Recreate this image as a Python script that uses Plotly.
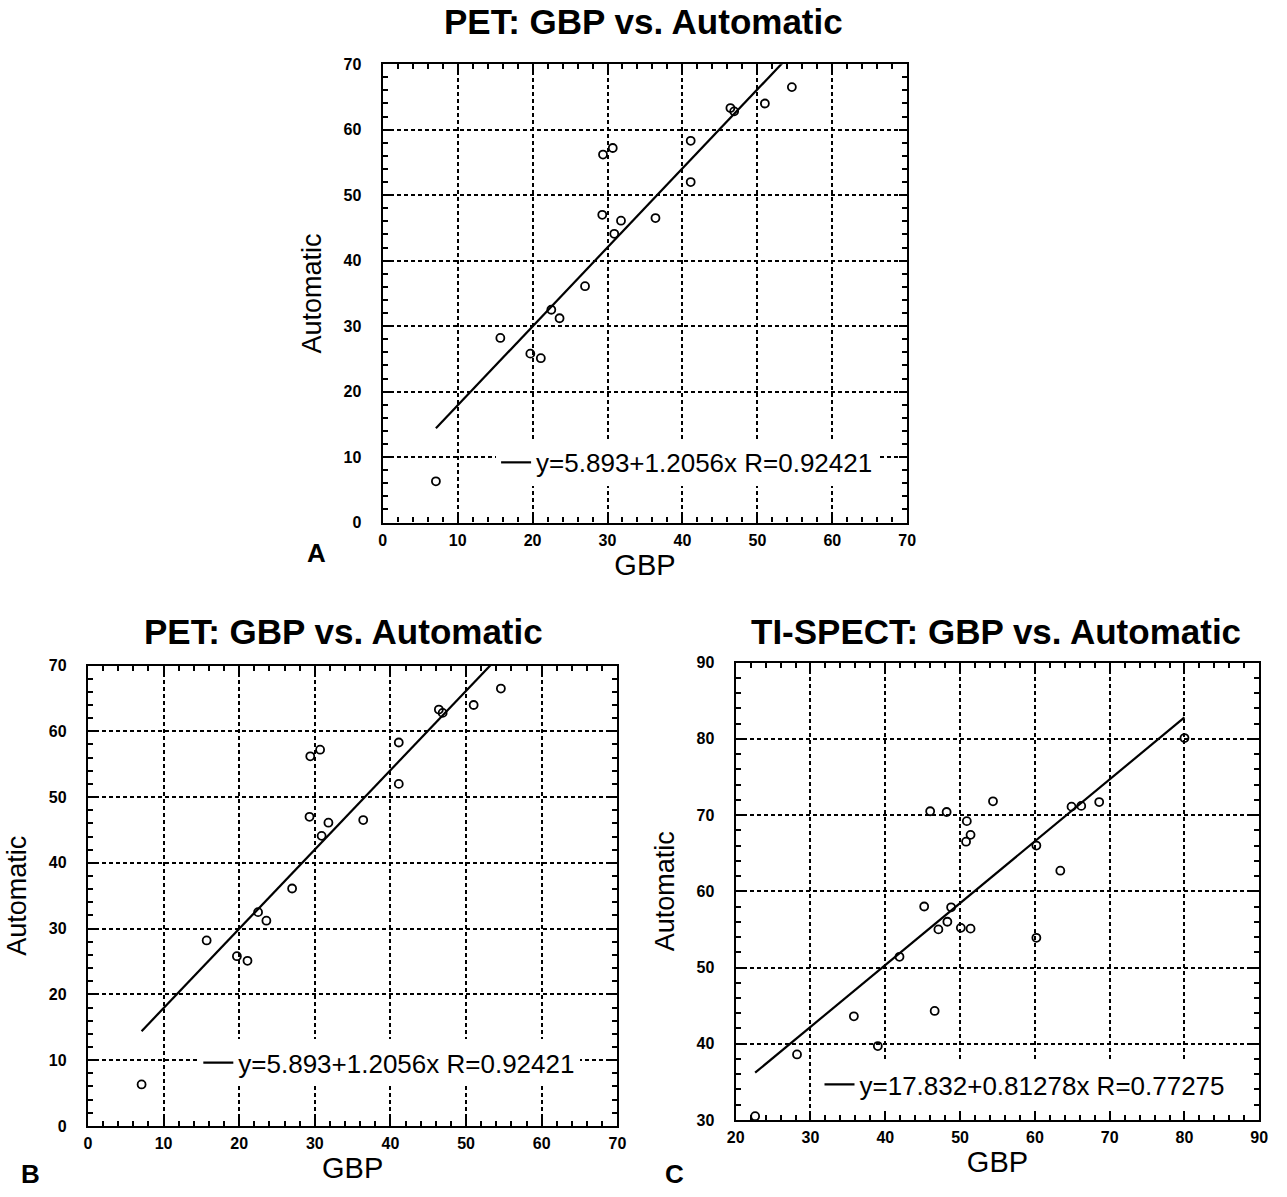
import plotly.graph_objects as go

W, H = 1287, 1197

# ---------------- data ----------------
pet_gbp = [7.1, 15.7, 19.7, 21.1, 22.5, 23.6, 27.0, 29.3, 29.4, 30.7,
           30.9, 31.8, 36.4, 41.1, 41.1, 46.4, 46.9, 51.0, 54.6]
pet_auto = [6.3, 28.2, 25.8, 25.1, 32.5, 31.2, 36.1, 47.0, 56.2, 57.2,
            44.1, 46.1, 46.5, 58.3, 52.0, 63.3, 62.8, 64.0, 66.5]
pet_fit_x = [7.1, 54.6]
pet_fit_y = [14.4, 71.7]
pet_label = "y=5.893+1.2056x R=0.92421"

spect_gbp = [22.6, 28.2, 35.8, 39.0, 41.9, 46.6, 45.2, 47.1, 48.3, 48.8,
             50.1, 51.4, 46.0, 48.2, 50.9, 50.8, 51.4, 54.4, 60.2, 60.2,
             63.4, 64.9, 66.2, 68.6, 80.0]
spect_auto = [30.5, 38.6, 43.6, 39.7, 51.4, 44.3, 58.0, 55.0, 56.0, 57.9,
              55.2, 55.1, 70.5, 70.4, 69.2, 66.5, 67.4, 71.8, 66.0, 53.9,
              62.7, 71.1, 71.2, 71.7, 80.1]
spect_fit_x = [22.6, 80.0]
spect_fit_y = [36.2, 82.8]
spect_label = "y=17.832+0.81278x R=0.77275"

titles = ["PET: GBP vs. Automatic", "PET: GBP vs. Automatic", "TI-SPECT: GBP vs. Automatic"]
panel_letters = ["A", "B", "C"]
x_title = "GBP"
y_title = "Automatic"

# ---------------- layout helpers ----------------
def px_dom_x(a, b):
    return [a / W, b / W]

def px_dom_y(top, bottom):
    return [1 - bottom / H, 1 - top / H]

FONT = "Liberation Sans, Arial, Helvetica, sans-serif"

def axis_common(rng, dtick, domain, anchor, title, standoff, tsize, lstand):
    return dict(
        range=rng, dtick=dtick, tick0=0, domain=domain, anchor=anchor,
        showline=True, linecolor="black", linewidth=2.2, mirror="allticks",
        ticks="inside", ticklen=8, tickwidth=2, tickcolor="black",
        showgrid=True, gridcolor="black", gridwidth=1.8, griddash="4px,3px",
        zeroline=False,
        minor=dict(dtick=2, ticks="inside", ticklen=5, tickwidth=1.5,
                   tickcolor="black", showgrid=False),
        tickfont=dict(family=FONT, size=16, color="black", weight="bold"),
        ticklabelstandoff=lstand,
        title=dict(text=title, font=dict(family=FONT, size=tsize, color="black"),
                   standoff=standoff),
        fixedrange=True,
    )

fig = go.Figure()

marker = dict(symbol="circle-open", size=8, color="black", line=dict(width=1.8, color="black"))
fitline = dict(color="black", width=2.2)

# Panel A
fig.add_trace(go.Scatter(x=pet_gbp, y=pet_auto, mode="markers", marker=marker,
                         xaxis="x", yaxis="y", showlegend=False))
fig.add_trace(go.Scatter(x=pet_fit_x, y=pet_fit_y, mode="lines", line=fitline,
                         xaxis="x", yaxis="y", name=pet_label, legend="legend"))
# Panel B
fig.add_trace(go.Scatter(x=pet_gbp, y=pet_auto, mode="markers", marker=marker,
                         xaxis="x2", yaxis="y2", showlegend=False))
fig.add_trace(go.Scatter(x=pet_fit_x, y=pet_fit_y, mode="lines", line=fitline,
                         xaxis="x2", yaxis="y2", name=pet_label, legend="legend2"))
# Panel C
fig.add_trace(go.Scatter(x=spect_gbp, y=spect_auto, mode="markers", marker=marker,
                         xaxis="x3", yaxis="y3", showlegend=False))
fig.add_trace(go.Scatter(x=spect_fit_x, y=spect_fit_y, mode="lines", line=fitline,
                         xaxis="x3", yaxis="y3", name=spect_label, legend="legend3"))

legend_font = dict(family=FONT, size=26, color="black")
def legend_at(xpx, ypx):
    return dict(x=xpx / W, y=1 - ypx / H, xanchor="left", yanchor="middle",
                bgcolor="white", borderwidth=0, font=legend_font,
                itemclick=False, itemdoubleclick=False, tracegroupgap=0)

fig.update_layout(
    width=W, height=H,
    margin=dict(l=0, r=0, t=0, b=0),
    paper_bgcolor="white", plot_bgcolor="white",
    font=dict(family=FONT, color="black"),
    xaxis=axis_common([0, 70], 10, px_dom_x(379, 911), "y", x_title, 4, 29, 2),
    yaxis=axis_common([0, 70], 10, px_dom_y(57, 522), "x", y_title, 14, 27, 16),
    xaxis2=axis_common([0, 70], 10, px_dom_x(80, 617), "y2", x_title, 4, 29, 2),
    yaxis2=axis_common([0, 70], 10, px_dom_y(667, 1134), "x2", y_title, 14, 27, 16),
    xaxis3=axis_common([20, 90], 10, px_dom_x(737, 1268), "y3", x_title, 4, 29, 2),
    yaxis3=axis_common([30, 90], 10, px_dom_y(664, 1128), "x3", y_title, 14, 27, 16),
    legend=legend_at(494, 461),
    legend2=legend_at(192, 1070),
    legend3=legend_at(822, 1092),
)

ann = []
for t, (cx, cy) in zip(titles, [(643, 14), (339, 632), (1001, 632)]):
    ann.append(dict(text=t, x=cx / W, y=1 - cy / H, xref="paper", yref="paper",
                    showarrow=False, xanchor="center", yanchor="middle",
                    font=dict(family=FONT, size=35, color="black", weight="bold")))
for t, (cx, cy) in zip(panel_letters, [(312, 553), (22, 1183), (675, 1183)]):
    ann.append(dict(text=t, x=cx / W, y=1 - cy / H, xref="paper", yref="paper",
                    showarrow=False, xanchor="center", yanchor="middle",
                    font=dict(family=FONT, size=26, color="black", weight="bold")))
fig.update_layout(annotations=ann)

fig.write_html("out.html",
               config={"displayModeBar": False},
               post_script="document.body.style.margin='0';document.body.style.overflow='hidden';")
